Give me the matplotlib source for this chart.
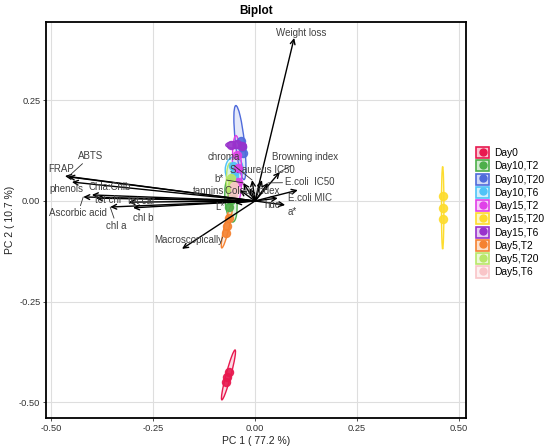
import matplotlib
matplotlib.use('Agg')
import matplotlib.pyplot as plt
from matplotlib.patches import Ellipse, Patch
from matplotlib.lines import Line2D
from matplotlib.legend_handler import HandlerTuple
from matplotlib.colors import to_rgba

plt.rcParams['font.family'] = ['Liberation Sans', 'DejaVu Sans']
plt.rcParams['axes.unicode_minus'] = False

# ---------------- data ----------------
groups = ['Day0', 'Day10,T2', 'Day10,T20', 'Day10,T6', 'Day15,T2',
          'Day15,T20', 'Day15,T6', 'Day5,T2', 'Day5,T20', 'Day5,T6']
colors = ['#E8194F', '#4DAF4A', '#4F6BDB', '#4FC3F7', '#E040E8',
          '#FDDC2E', '#9932CC', '#F58231', '#B9E769', '#F9C5C8']

# individuals (3 replicates per group)
ind_pc1 = [[-0.063, -0.069, -0.071],
           [-0.056, -0.059, -0.064],
           [-0.035, -0.031, -0.029],
           [-0.054, -0.049, -0.051],
           [-0.044, -0.042, -0.042],
           [0.460, 0.460, 0.460],
           [-0.059, -0.044, -0.032],
           [-0.064, -0.069, -0.071],
           [-0.059, -0.056, -0.061],
           [-0.051, -0.049, -0.054]]
ind_pc2 = [[-0.424, -0.437, -0.449],
           [0.020, 0.002, -0.015],
           [0.150, 0.135, 0.120],
           [0.087, 0.074, 0.062],
           [0.114, 0.082, 0.047],
           [0.012, -0.017, -0.045],
           [0.139, 0.142, 0.137],
           [-0.042, -0.062, -0.079],
           [0.057, 0.042, 0.027],
           [0.037, 0.027, 0.015]]

# confidence ellipses: centre, major, minor, angle (deg)
ell_cx = [-0.065, -0.059, -0.037, -0.051, -0.044, 0.460, -0.047, -0.069, -0.059, -0.051]
ell_cy = [-0.432, 0.002, 0.145, 0.077, 0.082, -0.017, 0.139, -0.063, 0.045, 0.027]
ell_major = [0.128, 0.109, 0.185, 0.065, 0.161, 0.205, 0.049, 0.110, 0.099, 0.062]
ell_minor = [0.012, 0.029, 0.022, 0.044, 0.022, 0.006, 0.017, 0.012, 0.022, 0.015]
ell_angle = [75.3, 95.0, 96.2, 90.0, 92.0, 90.0, 0.0, 77.0, 92.0, 90.0]

# variables (arrow tips)
var_names = ['Weight loss', 'FRAP', 'ABTS', 'phenols', 'Chla:Chlb', 'tot chl',
             'tot car', 'Ascorbic acid', 'chl a', 'chl b', 'Macroscopically',
             'chroma', 'b*', 'tannins', 'Colour index', 'L*', 'S. aureus IC50',
             'E.coli  IC50', 'Browning index', 'E.coli MIC', 'hue', 'a*']
var_pc1 = [0.096, -0.466, -0.458, -0.449, -0.400, -0.390, -0.310, -0.421, -0.355,
           -0.299, -0.179, -0.007, -0.029, -0.037, -0.012, -0.049, 0.017, 0.032,
           0.061, 0.105, 0.056, 0.074]
var_pc2 = [0.405, 0.062, 0.060, 0.047, 0.015, 0.007, -0.003, 0.010, -0.015,
           -0.017, -0.119, 0.052, 0.045, 0.027, 0.032, -0.005, 0.052, 0.045,
           0.072, 0.027, 0.007, -0.010]

# label placement (repelled positions)
lab_x = [0.112, -0.475, -0.402, -0.463, -0.355, -0.360, -0.279, -0.434, -0.339,
         -0.273, -0.162, -0.076, -0.088, -0.113, -0.008, -0.087, 0.018, 0.135,
         0.123, 0.136, 0.042, 0.091]
lab_y = [0.416, 0.079, 0.112, 0.029, 0.034, 0.0025, 0.0, -0.031, -0.062,
         -0.043, -0.097, 0.108, 0.055, 0.026, 0.026, -0.016, 0.077, 0.046,
         0.108, 0.007, -0.010, -0.028]
with_segment = ['ABTS', 'Ascorbic acid', 'chl a', 'chroma', 'b*',
                'E.coli  IC50', 'Browning index']

xticks = [-0.50, -0.25, 0.00, 0.25, 0.50]
yticks = [-0.50, -0.25, 0.00, 0.25]

# ---------------- figure ----------------
W, H = 550, 447
fig = plt.figure(figsize=(W / 100, H / 100), dpi=100)
ax = fig.add_axes([46 / W, 29 / H, 420 / W, 396 / H])
ax.set_xlim(-0.5123, 0.5172)
ax.set_ylim(-0.539, 0.4445)

ax.set_axisbelow(True)
ax.grid(True, color='#DEDEDE', lw=0.8)
ax.set_xticks(xticks)
ax.set_yticks(yticks)
ax.set_xticklabels(['%.2f' % v for v in xticks])
ax.set_yticklabels(['%.2f' % v for v in yticks])
ax.tick_params(labelsize=6.7, length=2.5, width=0.6, color='#333333',
               labelcolor='#333333', pad=1.5)
for sp in ax.spines.values():
    sp.set_linewidth(1.3)
    sp.set_color('black')

# ellipses and individuals
for i, g in enumerate(groups):
    c = colors[i]
    e = Ellipse((ell_cx[i], ell_cy[i]), ell_major[i], ell_minor[i],
                angle=ell_angle[i], facecolor=to_rgba(c, 0.15),
                edgecolor=c, lw=1.0, zorder=2)
    ax.add_patch(e)
    ax.plot(ind_pc1[i], ind_pc2[i], 'o', color=c, ms=5.8, alpha=0.9,
            mec=c, zorder=3)

# variable arrows
for i, name in enumerate(var_names):
    ax.annotate('', xy=(var_pc1[i], var_pc2[i]), xytext=(0, 0),
                arrowprops=dict(arrowstyle='->,head_length=0.35,head_width=0.17',
                                lw=1.0, color='black', shrinkA=0, shrinkB=0),
                zorder=4)

for i, name in enumerate(var_names):
    if name in with_segment:
        ax.annotate(name, xy=(var_pc1[i], var_pc2[i]), xytext=(lab_x[i], lab_y[i]),
                    ha='center', va='center', fontsize=7, color='#404040',
                    arrowprops=dict(arrowstyle='-', lw=0.6, color='#303030',
                                    shrinkA=0, shrinkB=0),
                    zorder=5)
    else:
        ax.text(lab_x[i], lab_y[i], name, ha='center', va='center',
                fontsize=7, color='#404040', zorder=5)

# texts
fig.text(256 / W, 1 - 11 / H, 'Biplot', ha='center', va='center',
         fontsize=8.5, fontweight='bold')
fig.text(256 / W, 1 - 441 / H, 'PC 1 ( 77.2 %)', ha='center', va='center',
         fontsize=7.5, color='#222222')
fig.text(10 / W, 1 - 220 / H, 'PC 2 ( 10.7 %)', ha='center', va='center',
         fontsize=7.5, rotation=90, color='#222222')

# legend
handles = []
for c in colors:
    handles.append((Patch(facecolor=to_rgba(c, 0.25), edgecolor=c, lw=1.2),
                    Line2D([], [], marker='o', ls='', color=c, ms=5)))
fig.legend(handles, groups, loc='upper left',
           bbox_to_anchor=(476 / W, 1 - 147 / H), frameon=False, fontsize=7.4,
           handlelength=1.3, handleheight=1.3, labelspacing=0.2,
           handletextpad=0.5, borderpad=0, borderaxespad=0,
           handler_map={tuple: HandlerTuple(ndivide=1)})

fig.savefig('out.png', dpi=100)
